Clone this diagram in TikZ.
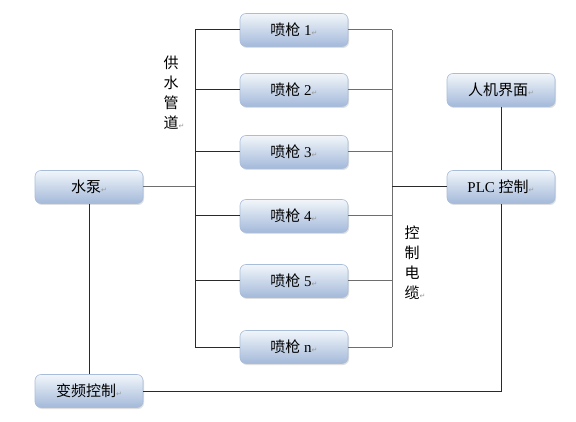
\documentclass[tikz,border=0pt]{standalone}
\usepackage{fontspec}
\setmainfont{Liberation Serif}
\newfontfamily\cjk{Noto Sans CJK SC}
\newfontfamily\dvs{DejaVu Sans}
\usetikzlibrary{shadows}
\newcommand\retmark{{\dvs\color{gray!80}\fontsize{7}{7}\selectfont ↵}}
\definecolor{boxtop}{HTML}{F2F6FB}
\definecolor{boxbot}{HTML}{A3B9DA}
\definecolor{boxedge}{HTML}{A9BDD9}
\definecolor{lined}{HTML}{2A2A2A}
\definecolor{lineg}{HTML}{6E6E6E}
\begin{document}
\begin{tikzpicture}[x=1pt,y=-1pt,
  blockbox/.style={rounded corners=6pt, draw=boxedge, line width=0.6pt,
    top color=boxtop, bottom color=boxbot, minimum width=108pt, minimum height=33pt,
    inner sep=0pt, font=\fontsize{15}{17}\selectfont,
    drop shadow={shadow xshift=1pt, shadow yshift=-1.5pt, opacity=0.25, fill=gray}},
  darkline/.style={draw=lined, line width=1pt},
  grayline/.style={draw=lineg, line width=1pt},
  vlabel/.style={align=center, font=\fontsize{15}{20}\selectfont\cjk, inner sep=0pt}]
\useasboundingbox (0,0) rectangle (576,422);

% spray guns
\node[blockbox] (g1) at (294,30)  {{\cjk 喷枪} 1\retmark};
\node[blockbox] (g2) at (294,90)  {{\cjk 喷枪} 2\retmark};
\node[blockbox] (g3) at (294,152) {{\cjk 喷枪} 3\retmark};
\node[blockbox] (g4) at (294,216) {{\cjk 喷枪} 4\retmark};
\node[blockbox] (g5) at (294,281) {{\cjk 喷枪} 5\retmark};
\node[blockbox] (gn) at (294,347) {{\cjk 喷枪} n\retmark};

% other blocks
\node[blockbox] (pump) at (89,187)  {{\cjk 水泵}\retmark};
\node[blockbox] (vfd)  at (89,391)  {{\cjk 变频控制}\retmark};
\node[blockbox] (hmi)  at (501,90)  {{\cjk 人机界面}\retmark};
\node[blockbox] (plc)  at (501,187) {PLC {\cjk 控制}\retmark};

% labels
\node[vlabel] (lw) at (171,93)  {供\\水\\管\\道\rlap{\retmark}};
\node[vlabel] (lc) at (412,263) {控\\制\\电\\缆\rlap{\retmark}};

% bus coordinates
\foreach \n/\y in {1/30,2/90,3/152,4/216,5/281,n/347}{
  \coordinate (L\n) at (195,\y);
  \coordinate (R\n) at (392,\y);
}
\coordinate (Lm) at (195,187);
\coordinate (Rm) at (392,187);
\coordinate (corner) at (501,391);

% water supply side
\draw[darkline] (L1) -- (Ln);
\foreach \n in {1,2,3,4,5,n}{ \draw[darkline] (L\n) -- (g\n.west); }
\draw[grayline] (pump.east) -- (Lm);

% control cable side
\draw[grayline] (R1) -- (Rn);
\foreach \n in {1,2,3,4,5,n}{ \draw[grayline] (g\n.east) -- (R\n); }
\draw[darkline] (Rm) -- (plc.west);

% control connections
\draw[darkline] (hmi.south) -- (plc.north);
\draw[darkline] (pump.south) -- (vfd.north);
\draw[darkline] (vfd.east) -- (corner) -- (plc.south);
\end{tikzpicture}
\end{document}
